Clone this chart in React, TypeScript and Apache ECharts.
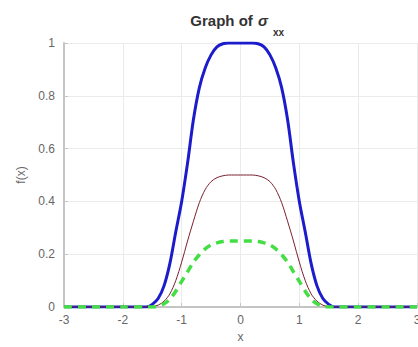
import React, { useEffect, useRef } from "react";
import * as echarts from "echarts";

const xValues = [
  -3, -2, -1.6, -1.5, -1.4, -1.3, -1.2, -1.1, -1.0, -0.9, -0.8, -0.7, -0.6, -0.5, -0.4, -0.3, -0.2, -0.1,
  0, 0.1, 0.2, 0.3, 0.4, 0.5, 0.6, 0.7, 0.8, 0.9, 1.0, 1.1, 1.2, 1.3, 1.4, 1.5, 1.6, 2, 3,
];
const blueValues = [
  0, 0, 0, 0.01, 0.032, 0.08, 0.165, 0.285, 0.4, 0.545, 0.71, 0.83, 0.905, 0.955, 0.985, 0.997, 1, 1,
  1, 1, 1, 0.997, 0.985, 0.955, 0.905, 0.83, 0.71, 0.545, 0.4, 0.285, 0.165, 0.08, 0.032, 0.01, 0, 0, 0,
];
const brownValues = [
  0, 0, 0, 0.001, 0.007, 0.022, 0.05, 0.1, 0.17, 0.25, 0.325, 0.395, 0.445, 0.475, 0.49, 0.497, 0.5, 0.5,
  0.5, 0.5, 0.5, 0.497, 0.49, 0.475, 0.445, 0.395, 0.325, 0.25, 0.17, 0.1, 0.05, 0.022, 0.007, 0.001, 0, 0, 0,
];
const greenValues = [
  0, 0, 0, 0, 0.003, 0.012, 0.03, 0.06, 0.097, 0.133, 0.17, 0.198, 0.22, 0.235, 0.243, 0.248, 0.25, 0.25,
  0.25, 0.25, 0.25, 0.248, 0.243, 0.235, 0.22, 0.198, 0.17, 0.133, 0.097, 0.06, 0.03, 0.012, 0.003, 0, 0, 0, 0,
];

const pairs = (ys: number[]) => xValues.map((x, i) => [x, ys[i]]);

export default function App() {
  const ref = useRef<HTMLDivElement>(null);
  useEffect(() => {
    if (!ref.current) return;
    const chart = echarts.init(ref.current, null, { renderer: "svg" });
    const axisColor = "#c4c4c4";
    const labelColor = "#666";
    const ff = "'Liberation Sans', Arial, sans-serif";
    chart.setOption({
      animation: false,
      backgroundColor: "#fff",
      grid: { left: 64, right: 1, top: 43, bottom: 40, containLabel: false, outerBoundsMode: "none" },
      graphic: [
        {
          type: "text",
          x: 257,
          y: 28,
          style: {
            text: "Graph of ",
            font: `bold 15px ${ff}`,
            fill: "#333",
            textAlign: "right",
            textVerticalAlign: "bottom",
          },
        },
        {
          type: "text",
          x: 258,
          y: 28,
          style: {
            text: "σ",
            font: `italic bold 15px ${ff}`,
            fill: "#333",
            textAlign: "left",
            textVerticalAlign: "bottom",
          },
        },
        {
          type: "text",
          x: 273,
          y: 37,
          style: {
            text: "xx",
            font: `bold 10px ${ff}`,
            fill: "#333",
            textAlign: "left",
            textVerticalAlign: "bottom",
          },
        },
      ],
      xAxis: {
        type: "value",
        min: -3,
        max: 3,
        interval: 1,
        name: "x",
        nameLocation: "middle",
        nameGap: 24,
        nameTextStyle: { color: labelColor, fontSize: 12, fontFamily: ff },
        axisLine: { show: true, onZero: false, lineStyle: { color: axisColor, width: 2 } },
        axisTick: { show: true, inside: true, length: 4, lineStyle: { color: axisColor } },
        axisLabel: { color: labelColor, fontSize: 12, margin: 7, fontFamily: ff, hideOverlap: false },
        splitLine: { show: true, lineStyle: { color: "#ebebeb", width: 1 } },
      },
      yAxis: {
        type: "value",
        min: 0,
        max: 1,
        interval: 0.2,
        name: "f(x)",
        nameLocation: "middle",
        nameGap: 34,
        nameTextStyle: { color: labelColor, fontSize: 12, fontFamily: ff },
        axisLine: { show: true, onZero: false, lineStyle: { color: axisColor, width: 2 } },
        axisTick: { show: true, inside: true, length: 4, lineStyle: { color: axisColor } },
        axisLabel: { color: labelColor, fontSize: 12, margin: 9, fontFamily: ff },
        splitLine: { show: true, lineStyle: { color: "#ebebeb", width: 1 } },
      },
      series: [
        {
          type: "line",
          data: pairs(blueValues),
          smooth: 0.3,
          showSymbol: false,
          lineStyle: { color: "#1c1ccc", width: 3 },
          z: 2,
        },
        {
          type: "line",
          data: pairs(brownValues),
          smooth: 0.3,
          showSymbol: false,
          lineStyle: { color: "#7a2030", width: 1 },
          z: 3,
        },
        {
          type: "line",
          data: pairs(greenValues),
          smooth: 0.3,
          showSymbol: false,
          lineStyle: { color: "#44dd44", width: 3.5, type: [8, 6] },
          z: 4,
        },
      ],
    });
    return () => chart.dispose();
  }, []);
  return (
    <div
      ref={ref}
      style={{ position: "fixed", left: 0, top: 0, width: 418, height: 347 }}
    />
  );
}
